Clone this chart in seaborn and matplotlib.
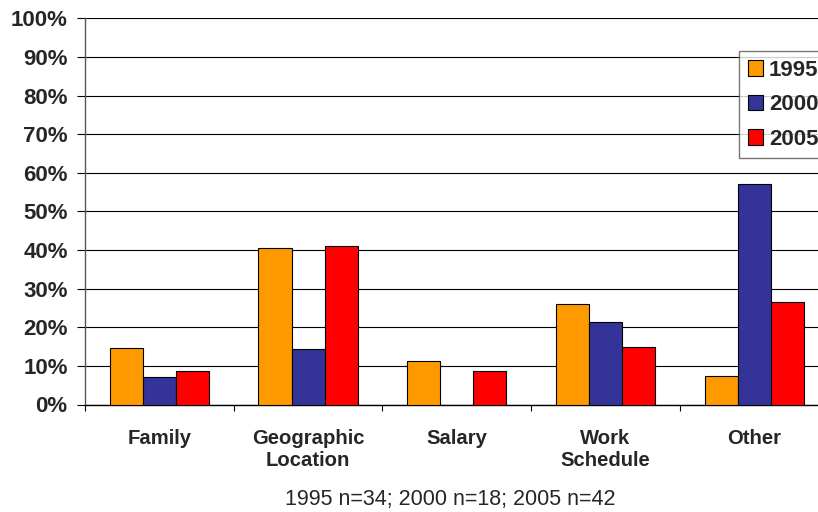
import numpy as np
import pandas as pd
import matplotlib
matplotlib.use("Agg")
import matplotlib.pyplot as plt
import seaborn as sns

# Werte (Anteile in %)
categories = ["Family", "Geographic\nLocation", "Salary", "Work\nSchedule", "Other"]
years = ["1995", "2000", "2005"]
vals_1995 = [14.7, 40.6, 11.2, 25.9, 7.3]
vals_2000 = [7.1, 14.3, 0.0, 21.3, 57.2]
vals_2005 = [8.8, 41.1, 8.8, 14.8, 26.5]
colors = ["#FF9900", "#333399", "#FF0000"]
subtitle = "1995 n=34; 2000 n=18; 2005 n=42"

df = pd.DataFrame({
    "category": categories * 3,
    "year": [y for y in years for _ in categories],
    "value": vals_1995 + vals_2000 + vals_2005,
})

sns.set_style("white")
plt.rcParams["font.family"] = ["Liberation Sans", "DejaVu Sans"]

fig = plt.figure(figsize=(8.18, 5.12), dpi=100)
ax = fig.add_axes([85 / 818, 1 - 404.5 / 512, 743.5 / 818, 386.2 / 512])

sns.barplot(data=df, x="category", y="value", hue="year", palette=colors,
            width=0.667, edgecolor="black", linewidth=0.8, saturation=1,
            ax=ax, zorder=3)

# Achsen
ax.set_ylim(0, 100)
ax.set_xlim(-0.5, len(categories) - 0.5)
ax.set_yticks(np.arange(0, 101, 10))
ax.set_yticklabels([f"{v}%" for v in range(0, 101, 10)],
                   fontsize=16, fontweight="bold")
ax.yaxis.grid(True, color="black", linewidth=0.8, zorder=0)
ax.set_axisbelow(True)

ax.set_xticks(range(len(categories)))
ax.set_xticklabels(categories, fontsize=14.6, fontweight="bold")
ax.tick_params(axis="x", which="major", length=0, pad=18)
ax.set_xticks(np.arange(-0.5, len(categories), 1), minor=True)
ax.tick_params(axis="x", which="minor", length=4, width=0.8, color="black",
               direction="out", bottom=True)
ax.tick_params(axis="y", length=6, width=0.8, color="black",
               direction="out", left=True, pad=6.5)

ax.set_xlabel("")
ax.set_ylabel("")
for side in ["top", "right"]:
    ax.spines[side].set_visible(False)
ax.spines["left"].set_color("#555555")
ax.spines["bottom"].set_color("black")
ax.spines["left"].set_linewidth(1.0)
ax.spines["bottom"].set_linewidth(1.0)

# Legende
handles, labels = ax.get_legend_handles_labels()
ax.legend_.remove()
leg = fig.legend(handles, labels, loc="upper left",
                 bbox_to_anchor=(739 / 818, 1 - 51 / 512),
                 bbox_transform=fig.transFigure,
                 prop={"size": 16, "weight": "bold"},
                 handlelength=0.7, handleheight=0.7, handletextpad=0.25,
                 labelspacing=0.6, borderpad=0.4, borderaxespad=0,
                 fancybox=False, frameon=True)
leg.get_frame().set_edgecolor("#555555")
leg.get_frame().set_linewidth(1.0)

fig.text(450 / 818, 1 - 500 / 512, subtitle, ha="center", va="center",
         fontsize=15.5)

fig.savefig("out.png", dpi=100)
